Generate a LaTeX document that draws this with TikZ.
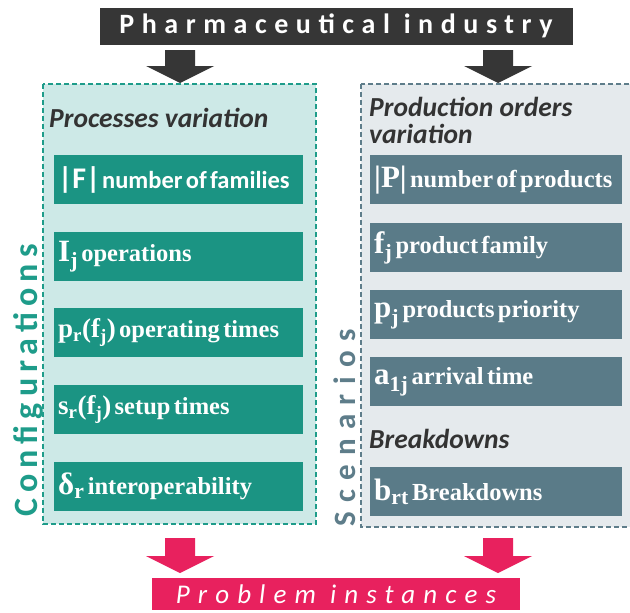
\documentclass[tikz,border=0pt]{standalone}
\usepackage{fontspec}
\setmainfont{Liberation Serif}
\newfontfamily\tnr{Liberation Serif}
\newfontfamily\carl{Carlito}
\newfontfamily\carlpharma{Carlito}[LetterSpace=27]
\newfontfamily\carlprob{Carlito}[LetterSpace=30]
\newfontfamily\carlconf{Carlito}[LetterSpace=18]
\newfontfamily\carlscen{Carlito}[LetterSpace=30]
\definecolor{darkbox}{HTML}{363636}
\definecolor{lteal}{HTML}{CDE9E7}
\definecolor{tealline}{HTML}{1E9C8A}
\definecolor{greenbox}{HTML}{1B9483}
\definecolor{lgray}{HTML}{E5EAED}
\definecolor{slateline}{HTML}{5E7D8A}
\definecolor{slatebox}{HTML}{5A7B88}
\definecolor{pinkc}{HTML}{E8215E}
\definecolor{headc}{HTML}{333333}
\newcommand{\symf}{\tnr\bfseries\fontsize{31}{31}\selectfont}
\newcommand{\symg}{\tnr\bfseries\fontsize{27}{27}\selectfont}
\newcommand{\wrd}{\tnr\bfseries\fontsize{24.5}{24.5}\selectfont}
\begin{document}
\begin{tikzpicture}[x=1pt,y=-1pt,
  panel/.style={line width=1.2pt, dash pattern=on 5pt off 3pt},
  gbox/.style={fill=greenbox, text=white, inner xsep=4pt, inner ysep=0pt, text width=241pt, minimum height=49pt, align=left, anchor=north west},
  sbox/.style={fill=slatebox, text=white, inner xsep=4pt, inner ysep=0pt, text width=244pt, minimum height=49pt, align=left, anchor=north west},
  heading/.style={anchor=base west, inner sep=0pt, text=headc, font=\carl\bfseries\itshape\fontsize{27.5}{27.5}\selectfont},
]
\useasboundingbox (0,0) rectangle (630,613);
\fill[white] (0,0) rectangle (630,613);

% top box
\node[fill=darkbox, text=white, minimum width=473pt, minimum height=37pt, inner sep=0pt,
      font=\carlpharma\bfseries\fontsize{28}{28}\selectfont] (pharma) at (336,26) {Pharmaceutical industry};

% top arrows
\fill[darkbox] (165,50) -- (195,50) -- (195,66) -- (214,66) -- (180,83) -- (146,66) -- (165,66) -- cycle;
\fill[darkbox] (483,50) -- (513,50) -- (513,66) -- (532,66) -- (498,83) -- (464,66) -- (483,66) -- cycle;

% panels
\draw[panel, draw=tealline, fill=lteal] (43,84) rectangle (316,524);
\draw[panel, draw=slateline, fill=lgray] (361,84) rectangle (640,527);

% headings
\node[heading] (hproc) at (49,127) {Processes variation};
\node[heading] (hprod1) at (369,116) {Production orders};
\node[heading] (hprod2) at (369,143) {variation};
\node[heading] (hbreak) at (369,448) {Breakdowns};

% left boxes
\node[gbox] (f) at (54,155) {{\carl\bfseries\fontsize{30}{30}\selectfont|F|}\,{\carl\bfseries\fontsize{24.5}{24.5}\selectfont number of families}};
\node[gbox] (i) at (54,232) {{\symf I\textsubscript{j}} {\wrd operations}};
\node[gbox] (p) at (54,308) {{\symg p\textsubscript{r}(f\textsubscript{j})} {\wrd operating times}};
\node[gbox] (s) at (54,385) {{\symg s\textsubscript{r}(f\textsubscript{j})} {\wrd setup times}};
\node[gbox] (d) at (54,462) {{\symf δ\textsubscript{r}} {\wrd interoperability}};

% right boxes
\node[sbox] (pp) at (370,155) {{\symf |P|} {\wrd number of products}};
\node[sbox] (fj) at (370,223) {{\symf f\textsubscript{j}} {\wrd product family}};
\node[sbox] (pj) at (370,290) {{\symf p\textsubscript{j}} {\wrd products priority}};
\node[sbox] (a) at (370,357) {{\symf a\textsubscript{1j}} {\wrd arrival time}};
\node[sbox] (b) at (370,467) {{\symf b\textsubscript{rt}} {\wrd Breakdowns}};

% side labels
\node[rotate=90, anchor=base west, inner sep=0pt, text=tealline, font=\carlconf\bfseries\fontsize{34}{34}\selectfont] (conf) at (37,517) {Configurations};
\node[rotate=90, anchor=base west, inner sep=0pt, text=slateline, font=\carlscen\bfseries\fontsize{31}{31}\selectfont] (scen) at (355,527) {Scenarios};

% bottom arrows
\fill[pinkc] (165,538) -- (195,538) -- (195,556) -- (214,556) -- (180,573) -- (146,556) -- (165,556) -- cycle;
\fill[pinkc] (483,538) -- (513,538) -- (513,556) -- (532,556) -- (498,573) -- (464,556) -- (483,556) -- cycle;

% bottom box
\node[fill=pinkc, text=white, minimum width=368pt, minimum height=32pt, inner sep=0pt,
      font=\carlprob\itshape\fontsize{27}{27}\selectfont] (prob) at (336,594) {Problem instances};
\end{tikzpicture}
\end{document}
